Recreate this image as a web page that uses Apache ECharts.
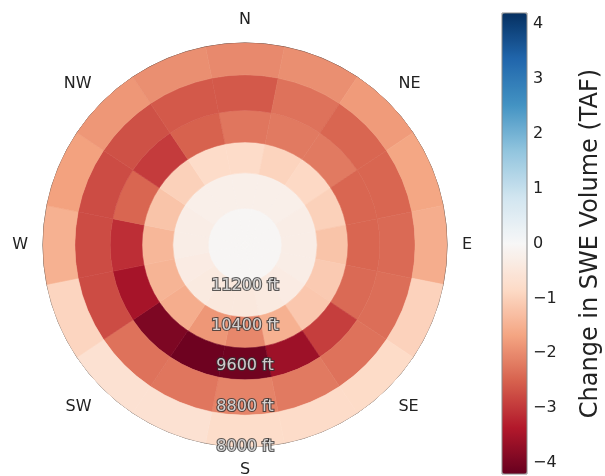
<!DOCTYPE html>
<html>
<head>
<meta charset="utf-8">
<script src="https://cdn.jsdelivr.net/npm/echarts@6/dist/echarts.min.js"></script>
<style>
  html, body { margin: 0; padding: 0; background: #ffffff; }
  #chart { width: 605px; height: 476px; }
</style>
</head>
<body>
<div id="chart"></div>
<script>
// ---- Data ----
// Aspect sector centres (degrees clockwise from north)
const SECTOR_ANGLES = [0, 22.5, 45, 67.5, 90, 112.5, 135, 157.5, 180, 202.5, 225, 247.5, 270, 292.5, 315, 337.5];
// Compass tick labels
const COMPASS_LABELS = ['N', 'NE', 'E', 'SE', 'S', 'SW', 'W', 'NW'];
// Elevation band edges (ft), centre of the plot outward
const BAND_EDGES = [12000, 11270, 10570, 9960, 9330, 8630, 8000];
// Elevation tick labels
const ELEV_TICKS = [8000, 8800, 9600, 10400, 11200];
// Colorbar ticks
const CBAR_TICKS = [-4, -3, -2, -1, 0, 1, 2, 3, 4];
const VMIN = -4.2, VMAX = 4.2;

// Change in SWE volume (TAF), one array per band (centre outward), values in SECTOR_ANGLES order
const band0 = [-0.05, -0.05, -0.05, -0.05, -0.05, -0.05, -0.05, -0.05, -0.05, -0.05, -0.05, -0.05, -0.05, -0.05, -0.05, -0.05];
const band1 = [-0.25, -0.25, -0.25, -0.3, -0.3, -0.3, -0.35, -0.4, -0.45, -0.45, -0.4, -0.35, -0.3, -0.3, -0.25, -0.25];
const band2 = [-0.8, -0.95, -0.87, -1.0, -1.2, -1.1, -1.15, -1.5, -2.05, -1.85, -1.55, -1.45, -1.4, -1.2, -1.0, -0.8];
const band3 = [-2.25, -2.2, -2.2, -2.45, -2.45, -2.4, -2.92, -3.6, -4.1, -4.12, -3.95, -3.5, -3.1, -2.45, -2.95, -2.5];
const band4 = [-2.6, -2.3, -2.45, -2.45, -2.4, -2.35, -2.3, -2.2, -2.1, -2.25, -2.3, -2.75, -2.75, -2.75, -2.7, -2.6];
const band5 = [-2.02, -1.95, -1.8, -1.65, -1.55, -0.98, -0.82, -0.8, -0.78, -0.65, -0.65, -0.93, -1.5, -1.72, -1.85, -1.95];
const BANDS = [band0, band1, band2, band3, band4, band5];

// RdBu colormap stops (low -> high)
const RDBU = ['#67001f', '#b2182b', '#d6604d', '#f4a582', '#fddbc7', '#f7f7f7',
              '#d1e5f0', '#92c5de', '#4393c3', '#2166ac', '#053061'];

// ---- Build series data ----
const cells = [];
BANDS.forEach((vals, b) => {
  vals.forEach((v, i) => {
    cells.push([BAND_EDGES[b], BAND_EDGES[b + 1], SECTOR_ANGLES[i], v]);
  });
});
const HALF = (SECTOR_ANGLES[1] - SECTOR_ANGLES[0]) / 2;

function renderCell(params, api) {
  const cs = params.coordSys;
  const cx = cs.cx, cy = cs.cy;
  const eIn = api.value(0), eOut = api.value(1), a = api.value(2);
  const pIn = api.coord([eIn, a]);
  const pOut = api.coord([eOut, a]);
  const d = p => Math.hypot(p[0] - cx, p[1] - cy);
  const ang = p => Math.atan2(p[1] - cy, p[0] - cx);
  const r0 = d(pIn), r1 = d(pOut);
  let s = ang(api.coord([eOut, a - HALF]));
  let e = ang(api.coord([eOut, a + HALF]));
  if (e <= s) e += Math.PI * 2;
  const color = api.visual('color');
  return {
    type: 'sector',
    shape: { cx: cx, cy: cy, r0: Math.min(r0, r1), r: Math.max(r0, r1), startAngle: s, endAngle: e, clockwise: true },
    style: { fill: color, stroke: color, lineWidth: 0.6 }
  };
}

const ANGLE_MIN = 180, ANGLE_MAX = 540;
const fmtTick = v => (v < 0 ? '\u2212' + Math.abs(v) : String(v));

const chart = echarts.init(document.getElementById('chart'), null, { renderer: 'canvas' });
chart.setOption({
  animation: false,
  backgroundColor: '#ffffff',
  textStyle: { fontFamily: 'DejaVu Sans' },
  polar: { center: [245, 245], radius: 202 },
  radiusAxis: {
    polarIndex: 0, type: 'value', min: 8000, max: 12000, inverse: true,
    axisLine: { show: false }, axisTick: { show: false }, axisLabel: { show: false }, splitLine: { show: false }
  },
  angleAxis: {
    polarIndex: 0, type: 'value', min: ANGLE_MIN, max: ANGLE_MAX, interval: 45,
    startAngle: -90, clockwise: true,
    axisLine: { show: true, lineStyle: { color: '#222', width: 1 } },
    axisTick: { show: false },
    splitLine: { show: false },
    axisLabel: {
      margin: 15, fontSize: 16, color: '#222', fontFamily: 'DejaVu Sans',
      formatter: v => (v >= ANGLE_MAX ? '' : COMPASS_LABELS[Math.round((v % 360) / 45) % 8])
    }
  },
  grid: {
    left: 502, top: 13, width: 25, height: 461, show: true,
    borderColor: '#888', borderWidth: 1, backgroundColor: 'transparent', z: 5
  },
  xAxis: { gridIndex: 0, type: 'value', show: false, min: 0, max: 1 },
  yAxis: {
    gridIndex: 0, type: 'value', min: VMIN, max: VMAX, position: 'right',
    axisLine: { show: false },
    splitLine: { show: false },
    axisTick: { show: true, length: 4, lineStyle: { color: '#333' }, customValues: CBAR_TICKS },
    axisLabel: { customValues: CBAR_TICKS, formatter: fmtTick, fontSize: 16, color: '#222', margin: 6 },
    name: 'Change in SWE Volume (TAF)', nameLocation: 'middle', nameRotate: 90, nameGap: 52,
    nameTextStyle: { fontSize: 24, color: '#222' }
  },
  visualMap: {
    type: 'continuous', min: VMIN, max: VMAX, dimension: 3, seriesIndex: 0,
    orient: 'vertical', left: 502, top: 13, itemWidth: 25, itemHeight: 461,
    calculable: false, text: null, padding: 0, showLabel: false,
    inRange: { color: RDBU }, hoverLink: false
  },
  series: [
    {
      type: 'custom', coordinateSystem: 'polar', polarIndex: 0,
      renderItem: renderCell, data: cells,
      encode: { radius: [0, 1], angle: 2 }, silent: true
    },
    {
      type: 'scatter', coordinateSystem: 'polar', polarIndex: 0,
      symbolSize: 0, silent: true, z: 3,
      data: ELEV_TICKS.map(e => [e, ANGLE_MIN]),
      label: {
        show: true, position: 'inside', formatter: p => p.value[0] + ' ft',
        fontSize: 16, color: '#f4f4f4', textBorderColor: '#333', textBorderWidth: 2.2,
        fontFamily: 'DejaVu Sans'
      }
    }
  ]
});
</script>
</body>
</html>
